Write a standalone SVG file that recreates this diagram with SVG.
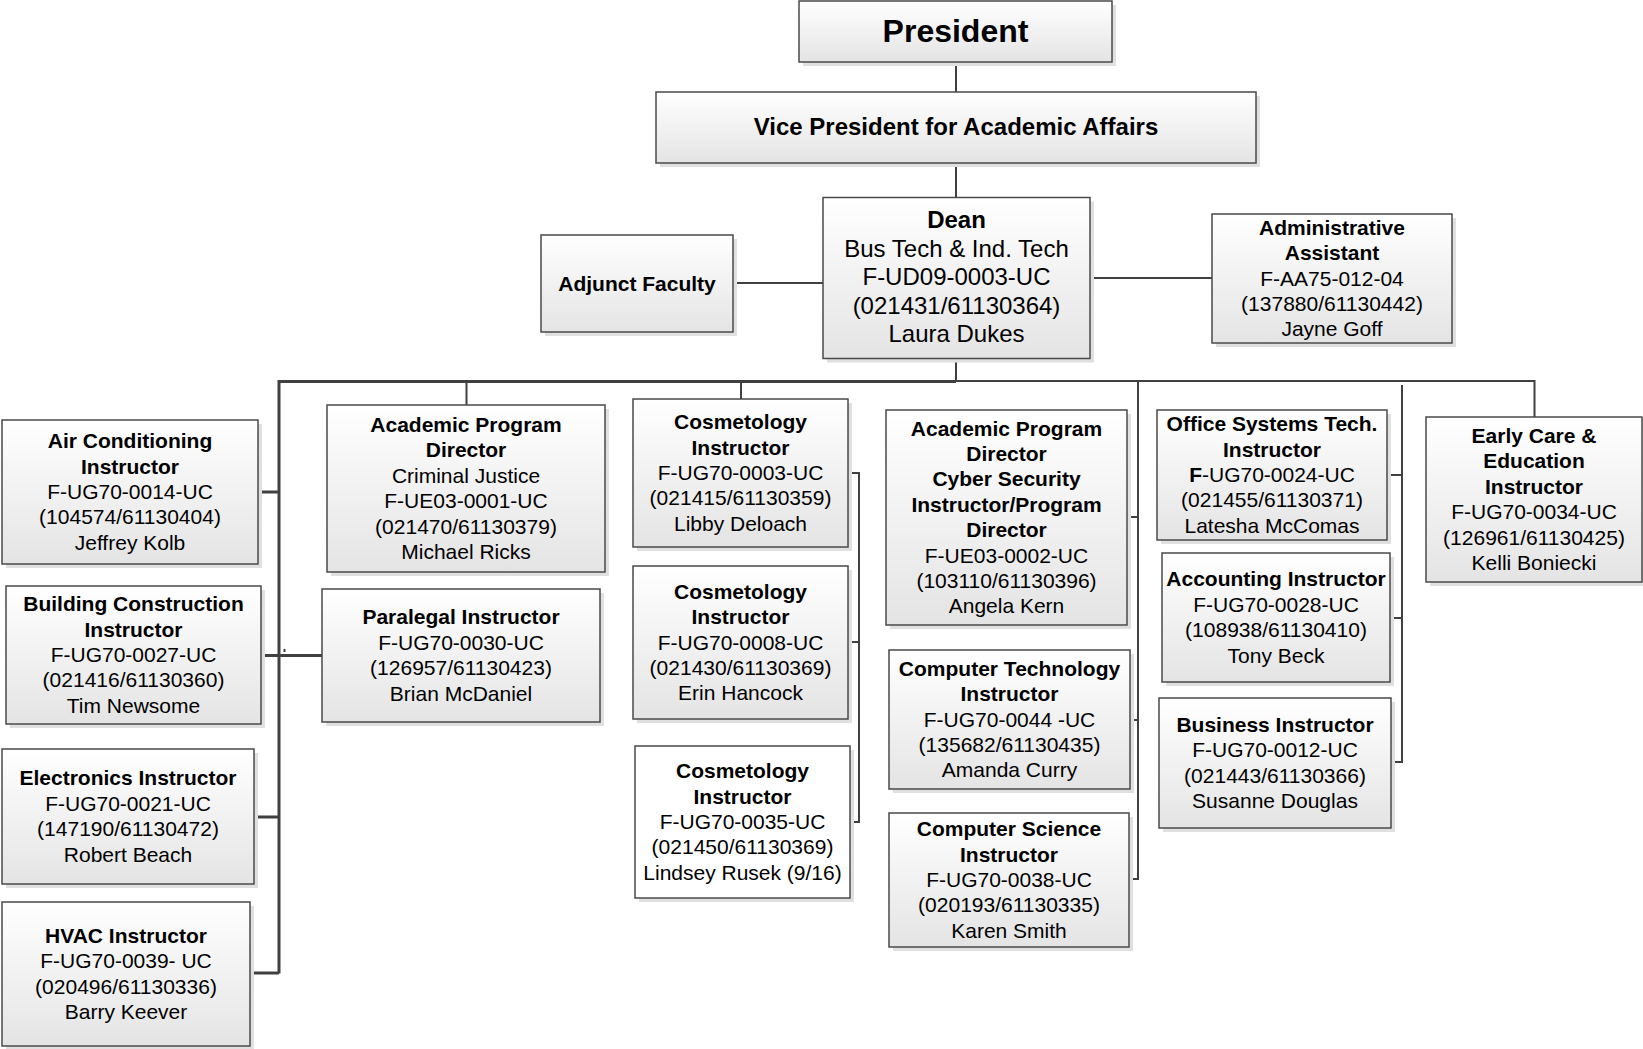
<svg xmlns="http://www.w3.org/2000/svg" width="1643" height="1049" viewBox="0 0 1643 1049">
<defs>
<linearGradient id="gf" x1="0" y1="0" x2="0" y2="1">
<stop offset="0" stop-color="#ffffff"/>
<stop offset="1" stop-color="#e4e4e4"/>
</linearGradient>
<style>
.sh{fill:#e0e0e0;}
.bx{fill:url(#gf);stroke:#4a4a4a;stroke-width:1.5;}
.bw{fill:#ffffff;stroke:#4a4a4a;stroke-width:1.5;}
text{font-family:"Liberation Sans",Arial,sans-serif;font-size:21px;fill:#000;text-anchor:middle;}
.b{font-weight:bold;}
.d{font-size:24px;}
.c{fill:none;stroke:#404040;stroke-width:2;}
.ct{fill:none;stroke:#404040;stroke-width:3;}
</style>
</defs>
<rect width="1643" height="1049" fill="#ffffff"/>

<g id="connectors">
<path class="c" d="M956,62V92M956,163V197.5M733,283H823M1090,278H1212M956,358V381"/>
<path class="ct" d="M956,381.5H279V973.5"/>
<path class="c" d="M956,381H1534.5V417"/>
<path class="c" d="M466.5,381V405M741,381V399"/>
<path class="ct" d="M258,492H279M261,655.5H322M254,817H279M250,973H279"/>
<path class="c" d="M848,473H859V822H850M848,642H859"/>
<path class="c" d="M1138,381V879H1129M1127,517H1138M1130,720H1138"/>
<path class="c" d="M1402,385V762H1391M1387,475H1402M1390,618H1402"/>
<rect x="283.5" y="649" width="2" height="3" fill="#404040"/>
</g>

<g id="president">
<rect class="sh" x="803" y="5" width="313" height="61"/>
<rect class="bx" x="799" y="1" width="313" height="61"/>
<text class="b" x="955.5" y="42" style="font-size:32px">President</text>
</g>

<g id="vp">
<rect class="sh" x="660" y="96" width="600" height="71"/>
<rect class="bx" x="656" y="92" width="600" height="71"/>
<text class="b d" x="956" y="135">Vice President for Academic Affairs</text>
</g>

<g id="dean">
<rect class="sh" x="827" y="201.5" width="267" height="161"/>
<rect class="bx" x="823" y="197.5" width="267" height="161"/>
<text class="d" x="956.5"><tspan class="b" x="956.5" y="228">Dean</tspan><tspan x="956.5" y="256.5">Bus Tech &amp; Ind. Tech</tspan><tspan x="956.5" y="285">F-UD09-0003-UC</tspan><tspan x="956.5" y="313.5">(021431/61130364)</tspan><tspan x="956.5" y="342">Laura Dukes</tspan></text>
</g>

<g id="adjunct">
<rect class="sh" x="545" y="239" width="192" height="97"/>
<rect class="bx" x="541" y="235" width="192" height="97"/>
<text class="b" x="637" y="290.5">Adjunct Faculty</text>
</g>

<g id="admin">
<rect class="sh" x="1216" y="218" width="240" height="129"/>
<rect class="bx" x="1212" y="214" width="240" height="129"/>
<text x="1332"><tspan class="b" x="1332" y="234.7">Administrative</tspan><tspan class="b" x="1332" y="260.1">Assistant</tspan><tspan x="1332" y="285.5">F-AA75-012-04</tspan><tspan x="1332" y="310.9">(137880/61130442)</tspan><tspan x="1332" y="336.3">Jayne Goff</tspan></text>
</g>

<g id="air-conditioning">
<rect class="sh" x="6" y="424" width="256" height="144"/>
<rect class="bx" x="2" y="420" width="256" height="144"/>
<text x="130"><tspan class="b" x="130" y="448.2">Air Conditioning</tspan><tspan class="b" x="130" y="473.6">Instructor</tspan><tspan x="130" y="499">F-UG70-0014-UC</tspan><tspan x="130" y="524.4">(104574/61130404)</tspan><tspan x="130" y="549.8">Jeffrey Kolb</tspan></text>
</g>

<g id="apd-criminal-justice">
<rect class="sh" x="331" y="409" width="278" height="167"/>
<rect class="bx" x="327" y="405" width="278" height="167"/>
<text x="466"><tspan class="b" x="466" y="432">Academic Program</tspan><tspan class="b" x="466" y="457.4">Director</tspan><tspan x="466" y="482.8">Criminal Justice</tspan><tspan x="466" y="508.2">F-UE03-0001-UC</tspan><tspan x="466" y="533.6">(021470/61130379)</tspan><tspan x="466" y="559">Michael Ricks</tspan></text>
</g>

<g id="building-construction">
<rect class="sh" x="10" y="590" width="255" height="138"/>
<rect class="bx" x="6" y="586" width="255" height="138"/>
<text x="133.5"><tspan class="b" x="133.5" y="611.2">Building Construction</tspan><tspan class="b" x="133.5" y="636.6">Instructor</tspan><tspan x="133.5" y="662">F-UG70-0027-UC</tspan><tspan x="133.5" y="687.4">(021416/61130360)</tspan><tspan x="133.5" y="712.8">Tim Newsome</tspan></text>
</g>

<g id="paralegal">
<rect class="sh" x="326" y="593" width="278" height="133"/>
<rect class="bx" x="322" y="589" width="278" height="133"/>
<text x="461"><tspan class="b" x="461" y="624.4">Paralegal Instructor</tspan><tspan x="461" y="649.8">F-UG70-0030-UC</tspan><tspan x="461" y="675.2">(126957/61130423)</tspan><tspan x="461" y="700.6">Brian McDaniel</tspan></text>
</g>

<g id="electronics">
<rect class="sh" x="6" y="753" width="252" height="135"/>
<rect class="bx" x="2" y="749" width="252" height="135"/>
<text x="128"><tspan class="b" x="128" y="785.4">Electronics Instructor</tspan><tspan x="128" y="810.8">F-UG70-0021-UC</tspan><tspan x="128" y="836.2">(147190/61130472)</tspan><tspan x="128" y="861.6">Robert Beach</tspan></text>
</g>

<g id="hvac">
<rect class="sh" x="6" y="906" width="248" height="144"/>
<rect class="bx" x="2" y="902" width="248" height="144"/>
<text x="126"><tspan class="b" x="126" y="942.9">HVAC Instructor</tspan><tspan x="126" y="968.3">F-UG70-0039- UC</tspan><tspan x="126" y="993.7">(020496/61130336)</tspan><tspan x="126" y="1019.1">Barry Keever</tspan></text>
</g>

<g id="cosmetology-1">
<rect class="sh" x="637" y="403" width="215" height="148"/>
<rect class="bx" x="633" y="399" width="215" height="148"/>
<text x="740.5"><tspan class="b" x="740.5" y="429.2">Cosmetology</tspan><tspan class="b" x="740.5" y="454.6">Instructor</tspan><tspan x="740.5" y="480">F-UG70-0003-UC</tspan><tspan x="740.5" y="505.4">(021415/61130359)</tspan><tspan x="740.5" y="530.8">Libby Deloach</tspan></text>
</g>

<g id="cosmetology-2">
<rect class="sh" x="637" y="570" width="215" height="153"/>
<rect class="bx" x="633" y="566" width="215" height="153"/>
<text x="740.5"><tspan class="b" x="740.5" y="598.7">Cosmetology</tspan><tspan class="b" x="740.5" y="624.1">Instructor</tspan><tspan x="740.5" y="649.5">F-UG70-0008-UC</tspan><tspan x="740.5" y="674.9">(021430/61130369)</tspan><tspan x="740.5" y="700.3">Erin Hancock</tspan></text>
</g>

<g id="cosmetology-3">
<rect class="sh" x="639" y="750" width="215" height="152"/>
<rect class="bw" x="635" y="746" width="215" height="152"/>
<text x="742.5"><tspan class="b" x="742.5" y="778.2">Cosmetology</tspan><tspan class="b" x="742.5" y="803.6">Instructor</tspan><tspan x="742.5" y="829">F-UG70-0035-UC</tspan><tspan x="742.5" y="854.4">(021450/61130369)</tspan><tspan x="742.5" y="879.8">Lindsey Rusek (9/16)</tspan></text>
</g>

<g id="apd-cyber-security">
<rect class="sh" x="890" y="414" width="241" height="215"/>
<rect class="bx" x="886" y="410" width="241" height="215"/>
<text x="1006.5"><tspan class="b" x="1006.5" y="435.6">Academic Program</tspan><tspan class="b" x="1006.5" y="461">Director</tspan><tspan class="b" x="1006.5" y="486.4">Cyber Security</tspan><tspan class="b" x="1006.5" y="511.8">Instructor/Program</tspan><tspan class="b" x="1006.5" y="537.2">Director</tspan><tspan x="1006.5" y="562.6">F-UE03-0002-UC</tspan><tspan x="1006.5" y="588">(103110/61130396)</tspan><tspan x="1006.5" y="613.4">Angela Kern</tspan></text>
</g>

<g id="computer-technology">
<rect class="sh" x="893" y="654" width="241" height="139"/>
<rect class="bx" x="889" y="650" width="241" height="139"/>
<text x="1009.5"><tspan class="b" x="1009.5" y="675.7">Computer Technology</tspan><tspan class="b" x="1009.5" y="701.1">Instructor</tspan><tspan x="1009.5" y="726.5">F-UG70-0044 -UC</tspan><tspan x="1009.5" y="751.9">(135682/61130435)</tspan><tspan x="1009.5" y="777.3">Amanda Curry</tspan></text>
</g>

<g id="computer-science">
<rect class="sh" x="893" y="817" width="240" height="134"/>
<rect class="bx" x="889" y="813" width="240" height="134"/>
<text x="1009"><tspan class="b" x="1009" y="836.2">Computer Science</tspan><tspan class="b" x="1009" y="861.6">Instructor</tspan><tspan x="1009" y="887">F-UG70-0038-UC</tspan><tspan x="1009" y="912.4">(020193/61130335)</tspan><tspan x="1009" y="937.8">Karen Smith</tspan></text>
</g>

<g id="office-systems">
<rect class="sh" x="1161" y="414" width="230" height="130"/>
<rect class="bx" x="1157" y="410" width="230" height="130"/>
<text x="1272"><tspan class="b" x="1272" y="431.2">Office Systems Tech.</tspan><tspan class="b" x="1272" y="456.6">Instructor</tspan><tspan x="1272" y="482"><tspan class="b">F</tspan>-UG70-0024-UC</tspan><tspan x="1272" y="507.4">(021455/61130371)</tspan><tspan x="1272" y="532.8">Latesha McComas</tspan></text>
</g>

<g id="accounting">
<rect class="sh" x="1166" y="557" width="228" height="129"/>
<rect class="bx" x="1162" y="553" width="228" height="129"/>
<text x="1276"><tspan class="b" x="1276" y="586.4">Accounting Instructor</tspan><tspan x="1276" y="611.8">F-UG70-0028-UC</tspan><tspan x="1276" y="637.2">(108938/61130410)</tspan><tspan x="1276" y="662.6">Tony Beck</tspan></text>
</g>

<g id="business">
<rect class="sh" x="1163" y="702" width="232" height="130"/>
<rect class="bx" x="1159" y="698" width="232" height="130"/>
<text x="1275"><tspan class="b" x="1275" y="731.9">Business Instructor</tspan><tspan x="1275" y="757.3">F-UG70-0012-UC</tspan><tspan x="1275" y="782.7">(021443/61130366)</tspan><tspan x="1275" y="808.1">Susanne Douglas</tspan></text>
</g>

<g id="early-care">
<rect class="sh" x="1430" y="421" width="216" height="165"/>
<rect class="bx" x="1426" y="417" width="216" height="165"/>
<text x="1534"><tspan class="b" x="1534" y="443">Early Care &amp;</tspan><tspan class="b" x="1534" y="468.4">Education</tspan><tspan class="b" x="1534" y="493.8">Instructor</tspan><tspan x="1534" y="519.2">F-UG70-0034-UC</tspan><tspan x="1534" y="544.6">(126961/61130425)</tspan><tspan x="1534" y="570">Kelli Boniecki</tspan></text>
</g>
</svg>
